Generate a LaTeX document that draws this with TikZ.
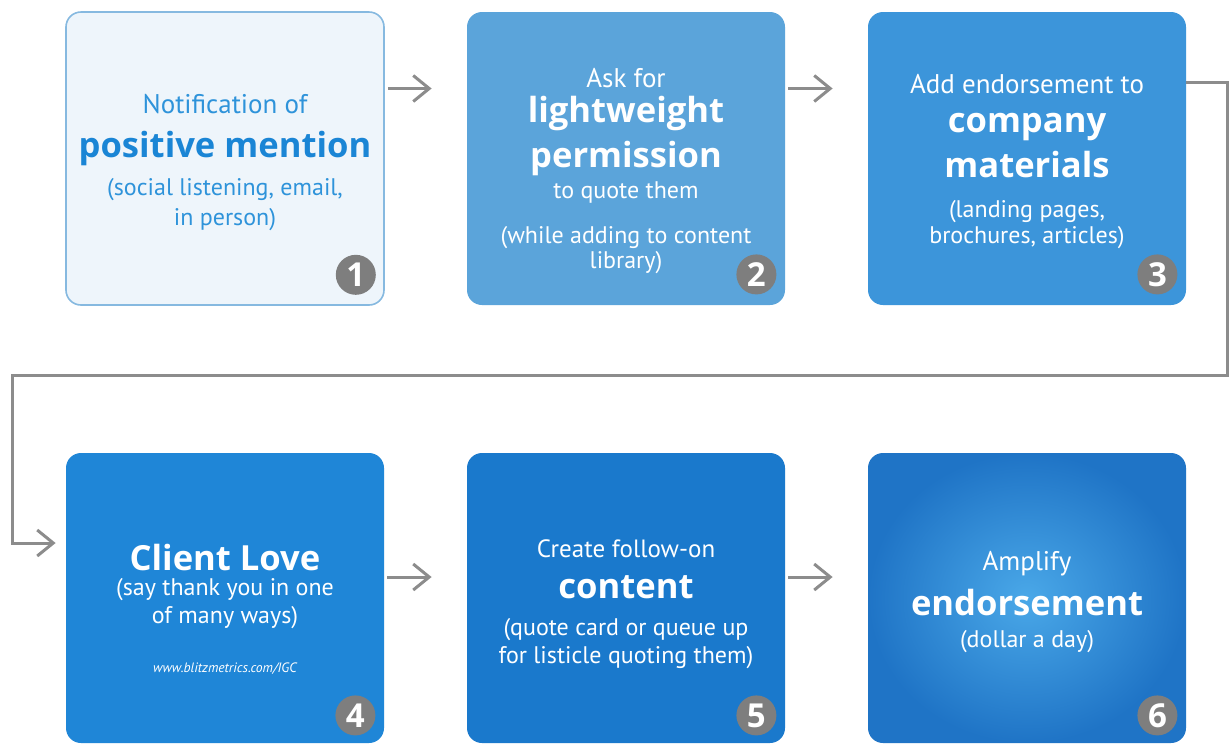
\documentclass[tikz,border=0pt]{standalone}
\usepackage{fontspec}
\setmainfont{PT Sans}
\newfontfamily\headfont{Open Sans}
\usetikzlibrary{arrows.meta}

\definecolor{cardA}{HTML}{EEF5FB}
\definecolor{cardAline}{HTML}{86B9E0}
\definecolor{cardB}{HTML}{5BA4DA}
\definecolor{cardC}{HTML}{3C95DA}
\definecolor{cardD}{HTML}{1F86D7}
\definecolor{cardE}{HTML}{1A79CC}
\definecolor{cardFin}{HTML}{4AA8E8}
\definecolor{cardFout}{HTML}{1F74C6}
\definecolor{blueText}{HTML}{2E93DA}
\definecolor{blueDark}{HTML}{1A85D5}
\definecolor{badgeGray}{HTML}{7E7E7E}
\definecolor{lineGray}{HTML}{8C8C8C}

\tikzset{
  card/.style={rounded corners=7.5pt, minimum width=159pt, minimum height=146.5pt, inner sep=0pt},
  badge/.style={circle, fill=badgeGray, text=white, minimum size=20pt, inner sep=0pt,
    font=\headfont\bfseries\fontsize{16.5}{16.5}\selectfont},
  lead/.style={anchor=base, inner sep=0pt, font=\fontsize{13.5}{15}\selectfont},
  small/.style={anchor=base, inner sep=0pt, font=\fontsize{12}{14}\selectfont},
  big/.style={anchor=base, inner sep=0pt, font=\headfont\bfseries\fontsize{17.3}{19}\selectfont},
  tiny/.style={anchor=base, inner sep=0pt, font=\itshape\fontsize{6.8}{8}\selectfont},
  flow/.style={draw=lineGray, line width=1.5pt, -{Straight Barb[length=8pt,width=13pt]}}
}

\begin{document}
\begin{tikzpicture}[x=0.5pt, y=-0.5pt, text=white]
    \path[fill=white, use as bounding box] (0,0) rectangle (1230,746);

    % top row
    \node[card, fill=cardA, draw=cardAline, line width=0.8pt] (b1) at (225,158.5) {};
    \node[card, fill=cardB] (b2) at (626,158.5) {};
    \node[card, fill=cardC] (b3) at (1027,158.5) {};

    % bottom row
    \node[card, minimum height=145pt, fill=cardD] (b4) at (225,598) {};
    \node[card, minimum height=145pt, fill=cardE] (b5) at (626,598) {};
    \node[card, minimum height=145pt, inner color=cardFin, outer color=cardFout] (b6) at (1027,598) {};

    % texts
    \node[lead, text=blueText] (t1a) at (225,113) {Notification of};
    \node[big, text=blueDark] (t1b) at (225,157) {positive mention};
    \node[small, text=blueText] (t1c) at (225,195) {(social listening, email,};
    \node[small, text=blueText] (t1d) at (225,225) {in person)};

    \node[lead] (t2a) at (626,87) {Ask for};
    \node[big] (t2b) at (626,122) {lightweight};
    \node[big] (t2c) at (626,167) {permission};
    \node[small] (t2d) at (626,198) {to quote them};
    \node[small] (t2e) at (626,243) {(while adding to content};
    \node[small] (t2f) at (626,268) {library)};

    \node[lead] (t3a) at (1027,93) {Add endorsement to};
    \node[big] (t3b) at (1027,132) {company};
    \node[big] (t3c) at (1027,177) {materials};
    \node[small] (t3d) at (1027,217) {(landing pages,};
    \node[small] (t3e) at (1027,243) {brochures, articles)};

    \node[big] (t4a) at (225,570) {Client Love};
    \node[small] (t4b) at (225,595) {(say thank you in one};
    \node[small] (t4c) at (225,623) {of many ways)};
    \node[tiny] (t4d) at (225,672) {www.blitzmetrics.com/IGC};

    \node[small, font=\fontsize{12.5}{14}\selectfont] (t5a) at (626,557) {Create follow-on};
    \node[big] (t5b) at (626,598) {content};
    \node[small] (t5c) at (626,635) {(quote card or queue up};
    \node[small] (t5d) at (626,663) {for listicle quoting them)};

    \node[lead] (t6a) at (1027,570) {Amplify};
    \node[big] (t6b) at (1027,615) {endorsement};
    \node[small] (t6c) at (1027,647) {(dollar a day)};

    % number badges
    \node[badge] (n1) at ([xshift=-14.5pt, yshift=15.5pt]b1.south east) {1};
    \node[badge] (n2) at ([xshift=-14.5pt, yshift=15.5pt]b2.south east) {2};
    \node[badge] (n3) at ([xshift=-14.5pt, yshift=15.5pt]b3.south east) {3};
    \node[badge] (n4) at ([xshift=-14.5pt, yshift=14pt]b4.south east) {4};
    \node[badge] (n5) at ([xshift=-14.5pt, yshift=14pt]b5.south east) {5};
    \node[badge] (n6) at ([xshift=-14.5pt, yshift=14pt]b6.south east) {6};

    % arrows
    \draw[flow, shorten <=1.5pt, shorten >=17.5pt] ([yshift=35pt]b1.east) -- ([yshift=35pt]b2.west);
    \draw[flow, shorten <=1.5pt, shorten >=17.5pt] ([yshift=35pt]b2.east) -- ([yshift=35pt]b3.west);
    \draw[flow, shorten <=1.5pt, shorten >=17.5pt] ([yshift=10.5pt]b4.east) -- ([yshift=10.5pt]b5.west);
    \draw[flow, shorten <=1.5pt, shorten >=17.5pt] ([yshift=10.5pt]b5.east) -- ([yshift=10.5pt]b6.west);

    \coordinate (edgeR) at (1227,375);
    \coordinate (edgeL) at (12,375);
    \draw[flow, shorten >=5pt] ([yshift=38pt]b3.east) -| (edgeR) -- (edgeL) |- ([yshift=27.5pt]b4.west);

\end{tikzpicture}
\end{document}
